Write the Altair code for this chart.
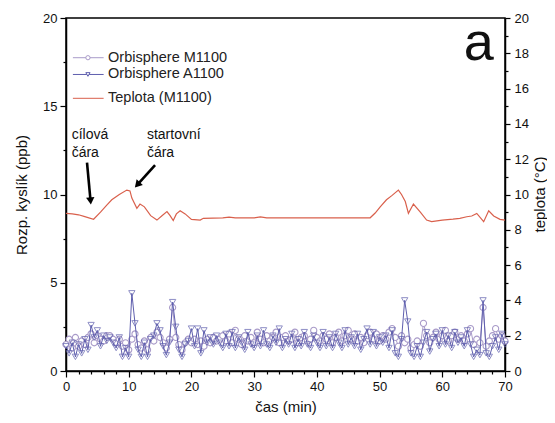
import altair as alt
import pandas as pd

FONT = "Liberation Sans"

# ---- data -------------------------------------------------------------
t_ox = [i * 0.5 for i in range(141)]

m1100 = [
    1.5, 1.8, 1.3, 1.9, 1.4, 1.7, 1.5, 1.9, 2.1, 1.6,
    2.0, 1.8, 1.7, 2.0, 2.0, 1.8, 1.6, 1.8, 1.4, 1.6,
    1.2, 1.8, 2.1, 1.5, 1.3, 1.7, 1.2, 1.9, 1.7, 2.2,
    1.9, 1.6, 1.3, 1.8, 3.6, 1.9, 1.5, 1.2, 1.6, 1.8,
    1.6, 1.8, 1.5, 1.7, 1.4, 1.8, 1.6, 1.9, 1.7, 1.8,
    2.0, 1.7, 2.1, 1.6, 2.3, 1.8, 1.5, 2.0, 1.7, 1.9,
    1.6, 2.2, 1.8, 1.6, 2.0, 1.7, 1.9, 2.2, 1.6, 1.9,
    2.0, 1.7, 1.8, 2.2, 1.6, 1.9, 2.0, 1.7, 1.8, 2.3,
    1.9, 1.7, 2.0, 1.8, 2.1, 1.6, 1.9, 2.2, 1.7, 2.0,
    2.3, 1.8, 2.1, 1.7, 1.9, 1.6, 2.0, 2.2, 1.8, 2.1,
    1.7, 2.0, 1.8, 2.2, 2.4, 1.9, 1.4, 2.0, 1.6, 1.8,
    1.3, 1.5, 1.7, 1.4, 2.7, 2.0, 1.6, 1.9, 2.2, 1.8,
    2.0, 2.3, 1.7, 2.0, 2.2, 1.8, 2.0, 1.7, 2.1, 2.4,
    1.5, 1.8, 1.6, 3.6, 1.4, 1.7, 2.0, 2.4, 1.8, 2.0,
    1.7,
]

a1100 = [
    1.4, 1.0, 1.6, 0.8, 1.5, 1.0, 1.8, 1.2, 2.6, 1.9,
    2.3, 1.4, 2.0, 1.7, 1.9, 1.6, 1.3, 1.9, 0.8, 1.3,
    0.8, 4.4, 2.7, 1.2, 0.8, 1.6, 0.8, 1.8, 2.0, 2.7,
    2.3, 1.4, 0.9, 1.6, 3.9, 2.5, 1.2, 0.8, 1.5, 1.7,
    2.4, 1.4, 2.4, 1.0, 2.3, 1.6, 1.9, 1.5, 2.0, 1.6,
    1.3, 2.1, 1.4, 2.2, 1.3, 1.9, 1.6, 1.2, 2.2, 1.5,
    1.3, 2.0, 1.4, 2.3, 1.5, 1.3, 2.0, 1.6, 2.4, 1.3,
    1.8, 1.5, 2.1, 1.3, 1.8, 1.4, 2.2, 1.5, 1.3, 2.0,
    1.6, 1.3, 2.2, 1.4, 1.9, 1.3, 2.1, 1.6, 1.3, 2.3,
    1.5, 1.9, 1.4, 2.1, 1.2, 1.8, 2.4, 1.5, 2.2, 1.4,
    1.9, 1.6, 2.0, 1.3, 2.3, 1.0, 0.8, 1.8, 4.0, 2.8,
    1.0, 0.8, 1.4, 0.8, 1.6, 2.2, 1.1, 1.8, 2.1, 1.4,
    2.3, 1.5, 2.0, 1.3, 2.2, 1.6, 1.9, 1.4, 2.3, 1.5,
    0.8, 1.2, 0.9, 4.0, 1.0, 0.8, 1.4, 1.9, 1.2, 2.1,
    1.5,
]

temp_t = [0, 1, 2, 3, 4.4, 5.5, 6.5, 7.3, 8.5, 9.7, 10.2, 10.5, 11.3, 11.8,
          12.5, 13.5, 14.5, 15.3, 16.1, 16.6, 17.1, 17.6, 18.2, 19, 20, 21.4,
          21.9, 25, 26, 27, 30, 31, 32, 48.5, 49.3, 50.1, 51.1, 52, 53, 53.5,
          54.1, 54.6, 55.4, 56.5, 57.5, 58.3, 60, 61.7, 62.8, 63.9, 64.7,
          65.5, 66.6, 67.4, 68.2, 69.2, 70]
temp_v = [8.93, 8.9, 8.85, 8.75, 8.6, 9.0, 9.4, 9.7, 10.0, 10.25, 10.2, 9.8,
          9.22, 9.46, 9.3, 8.8, 8.55, 8.8, 9.03, 8.8, 8.52, 8.9, 9.08, 8.9,
          8.59, 8.55, 8.65, 8.68, 8.72, 8.68, 8.68, 8.73, 8.68, 8.68, 8.95,
          9.3, 9.7, 9.95, 10.25, 10.0, 9.6, 8.93, 9.46, 9.0, 8.55, 8.46, 8.55,
          8.6, 8.65, 8.74, 8.78, 8.93, 8.46, 9.08, 8.78, 8.59, 8.55]

leg_labels = ["Orbisphere M1100", "Orbisphere A1100", "Teplota (M1100)"]
leg_y = [17.75, 16.8, 15.45]
leg_x0 = [1.1, 1.1, 1.1]
leg_x1 = [6.0, 6.0, 6.0]
leg_sym_x = [3.5, 3.5]
leg_text_x = [6.7, 6.7, 6.7]

ann_text = ["cílová", "čára", "startovní", "čára"]
ann_x = [0.9, 0.9, 12.9, 12.9]
ann_y = [13.35, 12.35, 13.35, 12.35]

arr_x0 = [3.35, 14.2]
arr_y0 = [11.8, 11.67]
arr_x1 = [3.9, 11.5]
arr_y1 = [9.7, 10.6]
arr_angle = [175, 222]

panel_label = ["a"]
panel_x = [68.2]
panel_y = [17.6]

C_M = "#a99bc9"
C_A = "#5f5fae"
C_T = "#d9604c"

# ---- frames -----------------------------------------------------------
ox = pd.DataFrame({"t": t_ox, "m": m1100, "a": a1100})
temp = pd.DataFrame({"t": temp_t, "v": temp_v})
leg = pd.DataFrame({"label": leg_labels, "y": leg_y, "x0": leg_x0,
                    "x1": leg_x1, "tx": leg_text_x,
                    "col": [C_M, C_A, C_T]})
leg_sym = pd.DataFrame({"x": leg_sym_x, "y": leg_y[:2],
                        "shape": ["circle", "triangle-down"],
                        "col": [C_M, C_A]})
ann = pd.DataFrame({"text": ann_text, "x": ann_x, "y": ann_y})
arr = pd.DataFrame({"x0": arr_x0, "y0": arr_y0, "x1": arr_x1,
                    "y1": arr_y1, "ang": arr_angle})
pan = pd.DataFrame({"text": panel_label, "x": panel_x, "y": panel_y})

xscale = alt.Scale(domain=[0, 70], nice=False, zero=False)
yscale = alt.Scale(domain=[0, 20], nice=False, zero=False)

x_axis = alt.Axis(
    title="čas (min)",
    values=list(range(0, 71, 2)),
    labelExpr="datum.value % 10 === 0 ? datum.label : ''",
    tickSize={"condition": {"test": "datum.value % 10 === 0", "value": 6}, "value": 3},
    labelFlush=False, labelOverlap=False, labelPadding=3, titlePadding=6,
)
y_axis = alt.Axis(
    title="Rozp. kyslík (ppb)",
    values=[0, 2.5, 5, 7.5, 10, 12.5, 15, 17.5, 20],
    labelExpr="datum.value % 5 === 0 ? datum.label : ''",
    tickSize={"condition": {"test": "datum.value % 5 === 0", "value": 6}, "value": 3},
    labelFlush=False, labelOverlap=False, labelPadding=3, titlePadding=13,
)
y2_axis = alt.Axis(
    title="teplota (°C)", orient="right",
    values=list(range(0, 21)),
    labelExpr="datum.value % 2 === 0 ? datum.label : ''",
    tickSize={"condition": {"test": "datum.value % 2 === 0", "value": 5}, "value": 3},
    labelFlush=False, labelOverlap=False, labelPadding=4,
    titleAngle=270, titleX=34, titleY=176, titleAlign="center",
    titleBaseline="middle",
)


def X(field):
    return alt.X(field, type="quantitative", scale=xscale, axis=x_axis)


def Y(field):
    return alt.Y(field, type="quantitative", scale=yscale, axis=y_axis)


base = alt.Chart(ox)
m_line = base.mark_line(color=C_M, strokeWidth=1).encode(x=X("t"), y=Y("m"))
m_pts = base.mark_point(shape="circle", size=38, color=C_M, fill="white",
                        filled=False, fillOpacity=1, strokeWidth=1.1).encode(
    x=X("t"), y=Y("m"))
a_line = base.mark_line(color=C_A, strokeWidth=1).encode(x=X("t"), y=Y("a"))
a_pts = base.mark_point(shape="triangle-down", size=40, color=C_A,
                        filled=False, strokeWidth=1).encode(
    x=X("t"), y=Y("a"))

lg = alt.Chart(leg)
leg_lines = lg.mark_rule(strokeWidth=1).encode(
    x=X("x0"), x2="x1", y=Y("y"),
    color=alt.Color("col:N", scale=None))
leg_syms = alt.Chart(leg_sym).mark_point(size=18, fill="white", filled=False,
                                         fillOpacity=1, strokeWidth=1).encode(
    x=X("x"), y=Y("y"),
    shape=alt.Shape("shape:N", scale=None),
    color=alt.Color("col:N", scale=None))
leg_text = lg.mark_text(align="left", baseline="middle", font=FONT,
                        fontSize=14.5, color="#222").encode(
    x=X("tx"), y=Y("y"), text="label:N")

ann_layer = alt.Chart(ann).mark_text(align="left", baseline="middle",
                                     font=FONT, fontSize=14, color="#111").encode(
    x=X("x"), y=Y("y"), text="text:N")
arr_lines = alt.Chart(arr).mark_rule(color="black", strokeWidth=2.6).encode(
    x=X("x0"), x2="x1", y=Y("y0"), y2="y1")
arr_heads = alt.Chart(arr).mark_point(shape="triangle", size=70, filled=True,
                                      color="black", opacity=1).encode(
    x=X("x1"), y=Y("y1"), angle=alt.Angle("ang:Q", scale=None))
pan_layer = alt.Chart(pan).mark_text(align="right", baseline="alphabetic",
                                     font=FONT, fontSize=54, color="#111").encode(
    x=X("x"), y=Y("y"), text="text:N")

left = alt.layer(m_line, m_pts, a_line, a_pts, leg_lines, leg_syms, leg_text,
                 ann_layer, arr_lines, arr_heads, pan_layer)

temp_layer = alt.Chart(temp).mark_line(color=C_T, strokeWidth=1.2).encode(
    x=X("t"),
    y=alt.Y("v", type="quantitative", scale=yscale, axis=y2_axis))

chart = alt.layer(left, temp_layer).resolve_scale(y="independent").properties(
    width=439, height=353,
    padding={"left": 58, "top": 10, "right": 42, "bottom": 44},
    autosize=alt.AutoSizeParams(type="none"),
).configure_axis(
    domainColor="black", domainWidth=1.5, tickColor="black", tickWidth=1.2,
    labelFont=FONT, labelFontSize=13, labelColor="#111",
    titleFont=FONT, titleFontSize=15, titleFontWeight="normal",
    titleColor="#111", grid=False,
).configure_view(stroke="black", strokeWidth=1.5)

chart.save("out.html", embed_options={"renderer": "svg", "actions": False})
